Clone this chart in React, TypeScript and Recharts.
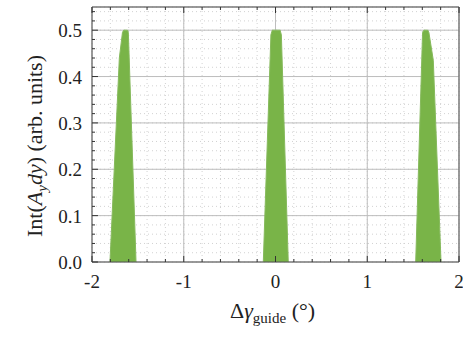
import { ComposedChart, Area, XAxis, YAxis, CartesianGrid } from "recharts";

// peak outlines (x in degrees, y in arb. units)
const peak1X = [-1.804, -1.702, -1.668, -1.655, -1.612, -1.604, -1.52];
const peak1Y = [0, 0.44, 0.495, 0.5, 0.5, 0.495, 0];
const peak2X = [-0.133, -0.05, -0.035, 0.05, 0.064, 0.139];
const peak2Y = [0, 0.49, 0.5, 0.5, 0.49, 0];
const peak3X = [1.528, 1.603, 1.617, 1.66, 1.672, 1.72, 1.804];
const peak3Y = [0, 0.495, 0.5, 0.5, 0.495, 0.435, 0];

const xTicks = [-2, -1.8, -1.6, -1.4, -1.2, -1, -0.8, -0.6, -0.4, -0.2, 0, 0.2, 0.4, 0.6, 0.8, 1, 1.2, 1.4, 1.6, 1.8, 2];
const xMajor = [-1, 0, 1];
const yTicks = [
  0, 0.02, 0.04, 0.06, 0.08, 0.1, 0.12, 0.14, 0.16, 0.18, 0.2, 0.22, 0.24, 0.26, 0.28, 0.3, 0.32, 0.34, 0.36, 0.38, 0.4,
  0.42, 0.44, 0.46, 0.48, 0.5, 0.52, 0.54,
];
const yMajor = [0.1, 0.2, 0.3, 0.4, 0.5];

const data = [
  ...peak1X.map((x, i) => ({ x, p1: peak1Y[i] })),
  ...peak2X.map((x, i) => ({ x, p2: peak2Y[i] })),
  ...peak3X.map((x, i) => ({ x, p3: peak3Y[i] })),
];

const FONT = "'Times New Roman', 'Liberation Serif', serif";
const INK = "#333";
const GREEN = "#79b448";

const isXMajor = (v: number) => Math.abs(v - Math.round(v)) < 1e-6;
const isYMajor = (v: number) => Math.abs(v * 10 - Math.round(v * 10)) < 1e-6;

function BottomTick(props: any) {
  const { x, y, payload } = props;
  const v = payload.value as number;
  const major = isXMajor(v);
  return (
    <g>
      <line x1={x} x2={x} y1={y} y2={y - (major ? 6 : 3)} stroke={INK} />
      {major && (
        <text x={x} y={y + 26} textAnchor="middle" fontFamily={FONT} style={{ fontFamily: FONT, fontSize: 19 }} fill="#222">
          {v}
        </text>
      )}
    </g>
  );
}

function TopTick(props: any) {
  const { x, y, payload } = props;
  const major = isXMajor(payload.value);
  return <line x1={x} x2={x} y1={y} y2={y + (major ? 6 : 3)} stroke={INK} />;
}

function LeftTick(props: any) {
  const { x, y, payload } = props;
  const v = payload.value as number;
  const major = isYMajor(v);
  return (
    <g>
      <line x1={x} x2={x + (major ? 6 : 3)} y1={y} y2={y} stroke={INK} />
      {major && (
        <text x={x - 10} y={y + 7} textAnchor="end" fontFamily={FONT} style={{ fontFamily: FONT, fontSize: 19 }} fill="#222">
          {v.toFixed(1)}
        </text>
      )}
    </g>
  );
}

function RightTick(props: any) {
  const { x, y, payload } = props;
  const major = isYMajor(payload.value);
  return <line x1={x} x2={x - (major ? 6 : 3)} y1={y} y2={y} stroke={INK} />;
}

export default function App() {
  return (
    <div style={{ position: "absolute", left: 0, top: 0, background: "#fff", fontFamily: FONT }}>
      <ComposedChart width={463} height={343} data={data} margin={{ top: 6, right: 3, left: 0, bottom: 0 }}>
        {/* minor dotted grid follows the bottom/left axis ticks */}
        <CartesianGrid stroke="#d2d2d2" strokeDasharray="1 3" />
        {/* major solid grid follows two hidden axes */}
        <CartesianGrid stroke="#bdbdbd" xAxisId="maj" yAxisId="maj" />
        <XAxis xAxisId="maj" type="number" domain={[-2, 2]} ticks={xMajor} hide dataKey="x" />
        <YAxis yAxisId="maj" type="number" domain={[0, 0.55]} ticks={yMajor} hide dataKey="p2" allowDataOverflow />
        <XAxis
          dataKey="x"
          type="number"
          domain={[-2, 2]}
          ticks={xTicks}
          interval={0}
          height={81}
          tickSize={0}
          tickMargin={0}
          tickLine={false}
          axisLine={{ stroke: "#555" }}
          tick={<BottomTick />}
          label={{
            content: () => (
              <text x={230} y={318} fontFamily={FONT} style={{ fontFamily: FONT, fontSize: 22 }} fill="#222">
                Δ<tspan fontStyle="italic">γ</tspan>
                <tspan fontSize={15} dy={5}>guide</tspan>
                <tspan dy={-5}> (°)</tspan>
              </text>
            ),
          }}
        />
        <XAxis
          xAxisId="top"
          orientation="top"
          dataKey="x"
          type="number"
          domain={[-2, 2]}
          ticks={xTicks}
          interval={0}
          height={1}
          tickSize={0}
          tickMargin={0}
          tickLine={false}
          axisLine={{ stroke: "#555" }}
          tick={<TopTick />}
        />
        <YAxis
          type="number"
          domain={[0, 0.55]}
          ticks={yTicks}
          interval={0}
          width={92}
          tickSize={0}
          tickMargin={0}
          tickLine={false}
          axisLine={{ stroke: "#555" }}
          tick={<LeftTick />}
          label={{
            content: () => (
              <text
                transform="translate(42,146) rotate(-90)"
                textAnchor="middle"
                fontFamily={FONT}
                style={{ fontFamily: FONT, fontSize: 22 }}
                fill="#222"
              >
                Int(<tspan fontStyle="italic">A</tspan>
                <tspan fontStyle="italic" fontSize={15} dy={5}>y</tspan>
                <tspan fontStyle="italic" dy={-5}>dy</tspan>) (arb. units)
              </text>
            ),
          }}
        />
        <YAxis
          yAxisId="right"
          orientation="right"
          type="number"
          domain={[0, 0.55]}
          ticks={yTicks}
          interval={0}
          width={1}
          tickSize={0}
          tickMargin={0}
          tickLine={false}
          axisLine={{ stroke: "#555" }}
          tick={<RightTick />}
        />
        <Area dataKey="p1" type="linear" fill={GREEN} fillOpacity={1} stroke="#86ba5c" strokeWidth={1} isAnimationActive={false} dot={false} activeDot={false} />
        <Area dataKey="p2" type="linear" fill={GREEN} fillOpacity={1} stroke="#86ba5c" strokeWidth={1} isAnimationActive={false} dot={false} activeDot={false} />
        <Area dataKey="p3" type="linear" fill={GREEN} fillOpacity={1} stroke="#86ba5c" strokeWidth={1} isAnimationActive={false} dot={false} activeDot={false} />
      </ComposedChart>
    </div>
  );
}
